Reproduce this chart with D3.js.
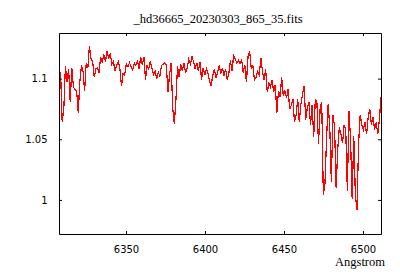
<!DOCTYPE html>
<html lang="en">
<head>
  <meta charset="UTF-8" />
  <title>_hd36665_20230303_865_35.fits</title>
  <script src="https://cdnjs.cloudflare.com/ajax/libs/d3/7.8.2/d3.min.js"></script>
  <style>
    body { margin: 0; padding: 0; background: #fff; }
    svg { display: block; }
    .tick text { font-family: "DejaVu Sans", sans-serif; font-size: 10px; fill: #000; }
    .tick line, .domain { stroke: #000; }
    .serif { font-family: "Liberation Serif", serif; font-size: 12.5px; fill: #000; }
  </style>
</head>
<body>
<script>
/* spectrum: linear wavelength grid, flux */
const lambdaStart = 6307.6;
const lambdaEnd = 6511.4;
const flux = [
  1.091, 1.105, 1.064, 1.075, 1.110, 1.097, 1.108, 1.081, 1.109, 1.093,
  1.091, 1.090, 1.072, 1.097, 1.111, 1.106, 1.090, 1.113, 1.109, 1.127,
  1.116, 1.114, 1.101, 1.108, 1.109, 1.105, 1.118, 1.113, 1.120, 1.114,
  1.123, 1.116, 1.121, 1.112, 1.114, 1.106, 1.111, 1.114, 1.108, 1.094,
  1.104, 1.103, 1.112, 1.110, 1.113, 1.110, 1.107, 1.113, 1.111, 1.114,
  1.108, 1.118, 1.111, 1.118, 1.099, 1.111, 1.108, 1.114, 1.109, 1.103,
  1.106, 1.100, 1.105, 1.102, 1.111, 1.112, 1.113, 1.111, 1.089, 1.103,
  1.113, 1.075, 1.063, 1.083, 1.110, 1.101, 1.112, 1.106, 1.113, 1.105,
  1.109, 1.116, 1.112, 1.118, 1.114, 1.108, 1.113, 1.106, 1.114, 1.099,
  1.109, 1.103, 1.108, 1.104, 1.098, 1.094, 1.103, 1.108, 1.101, 1.105,
  1.111,
  1.104, 1.109, 1.102, 1.108, 1.099, 1.104, 1.115, 1.106, 1.119, 1.116,
  1.113, 1.115, 1.112, 1.116, 1.105, 1.111, 1.097, 1.118, 1.123, 1.108,
  1.111, 1.099, 1.101, 1.106, 1.103, 1.117, 1.106, 1.099, 1.108, 1.089,
  1.096, 1.093, 1.099, 1.089, 1.095, 1.072, 1.090, 1.085, 1.101, 1.086,
  1.090, 1.084, 1.091, 1.075, 1.078, 1.083, 1.064, 1.070, 1.083, 1.064,
  1.079, 1.087, 1.094, 1.066, 1.076, 1.081, 1.062, 1.078, 1.052, 1.083,
  1.080, 1.046, 1.075, 1.081, 1.004, 1.013, 1.050, 1.079, 1.061, 1.015,
  1.070, 1.061, 1.010, 1.042, 1.060, 1.054, 1.047, 1.062, 1.058, 1.007,
  1.073, 1.050, 1.001, 1.053, 1.004, 0.992, 1.046, 1.070, 1.062, 1.058,
  1.064, 1.054, 1.068, 1.075, 1.062, 1.068, 1.058, 1.064, 1.054, 1.066,
  1.085
];
const xTicks = [6350, 6400, 6450, 6500];
const yTicks = [1, 1.05, 1.1];
const yTickLabels = ["1", "1.05", "1.1"];
const title = "_hd36665_20230303_865_35.fits";
const xLabel = "Angstrom";

const step = (lambdaEnd - lambdaStart) / (flux.length - 1);
const points = flux.map((f, i) => ({ w: lambdaStart + i * step, f: f }));

/* setup */
const W = 400, H = 280;
const plotLeft = 59, plotRight = 381, plotTop = 33, plotBottom = 234;

const svg = d3.select("body").append("svg")
  .attr("width", W)
  .attr("height", H);

const x = d3.scaleLinear().domain([lambdaStart, lambdaEnd]).range([plotLeft, plotRight]);
const y = d3.scaleLinear().domain([0.9719, 1.1376]).range([plotBottom, plotTop]);

svg.append("defs").append("clipPath").attr("id", "plotClip")
  .append("rect")
  .attr("x", plotLeft).attr("y", plotTop)
  .attr("width", plotRight - plotLeft + 1).attr("height", plotBottom - plotTop + 1);

/* spectrum (aliased, like the original bitmap) */
const line = d3.line().x(d => x(d.w)).y(d => y(d.f));
svg.append("path")
  .datum(points)
  .attr("clip-path", "url(#plotClip)")
  .attr("fill", "none")
  .attr("stroke", "#ff0000")
  .attr("stroke-width", 1.2)
  .attr("shape-rendering", "crispEdges")
  .attr("d", line);

/* axes, ticks pointing inward on all four sides */
svg.append("g")
  .attr("transform", `translate(0,${plotBottom})`)
  .call(d3.axisBottom(x).tickValues(xTicks).tickFormat(d3.format("d"))
    .tickSizeInner(-3).tickSizeOuter(0).tickPadding(12));

svg.append("g")
  .attr("transform", `translate(0,${plotTop})`)
  .call(d3.axisTop(x).tickValues(xTicks).tickFormat("")
    .tickSizeInner(-3).tickSizeOuter(0));

svg.append("g")
  .attr("transform", `translate(${plotLeft},0)`)
  .call(d3.axisLeft(y).tickValues(yTicks).tickFormat((d, i) => yTickLabels[i])
    .tickSizeInner(-3).tickSizeOuter(0).tickPadding(11.5));

svg.append("g")
  .attr("transform", `translate(${plotRight},0)`)
  .call(d3.axisRight(y).tickValues(yTicks).tickFormat("")
    .tickSizeInner(-3).tickSizeOuter(0));

svg.selectAll(".domain").attr("stroke-width", 1);

/* labels */
svg.append("text")
  .attr("class", "serif")
  .attr("x", 218)
  .attr("y", 23)
  .attr("text-anchor", "middle")
  .text(title);

svg.append("text")
  .attr("class", "serif")
  .attr("x", 385)
  .attr("y", 265.5)
  .attr("text-anchor", "end")
  .text(xLabel);
</script>
</body>
</html>
